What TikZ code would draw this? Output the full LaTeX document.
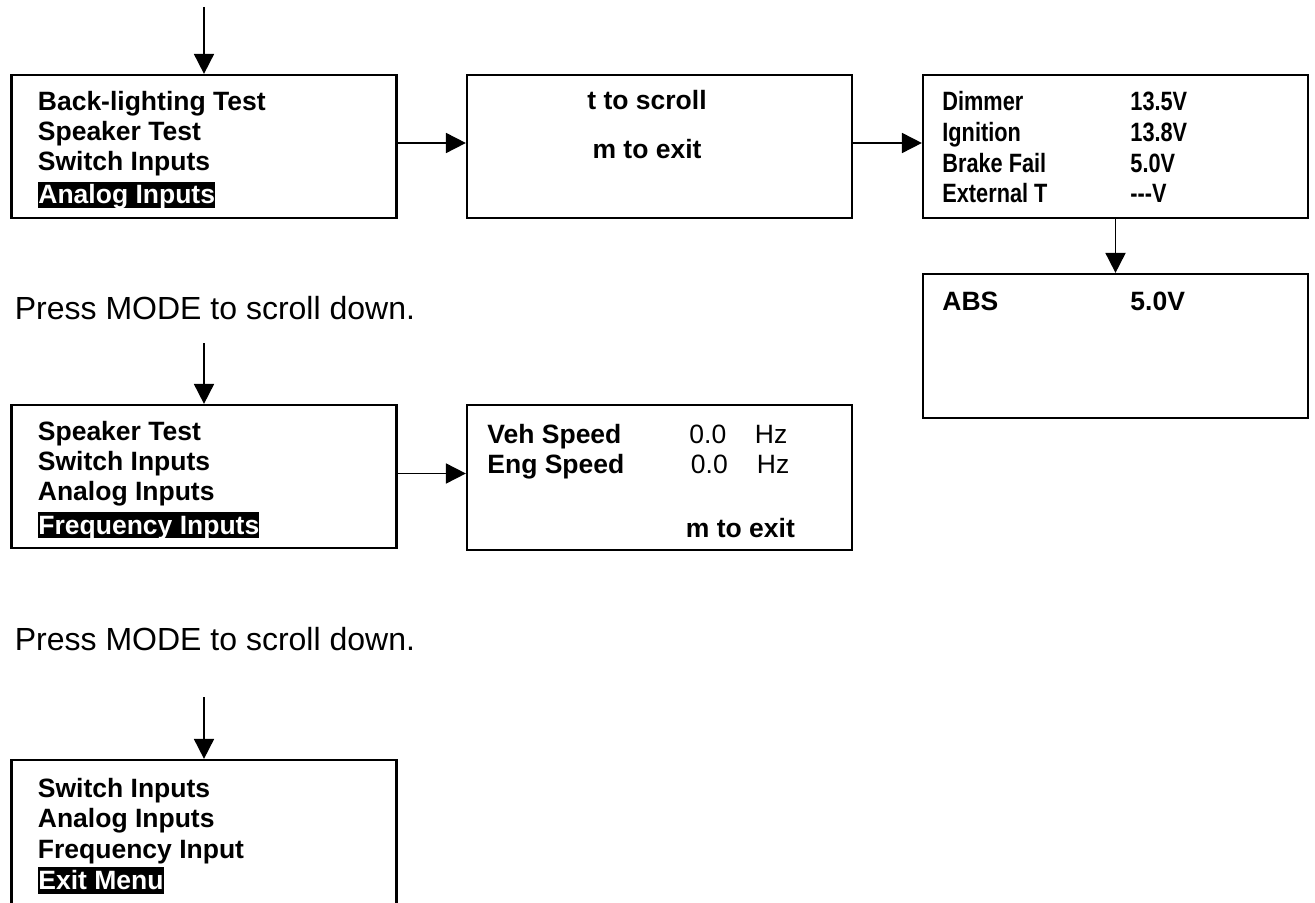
\documentclass[tikz,border=0pt]{standalone}
\usepackage{fontspec}
\setmainfont{Liberation Sans}
\newfontfamily\narrowsans[FakeStretch=0.82]{Liberation Sans}
\usetikzlibrary{arrows.meta}

\tikzset{
  panel/.style={draw, line width=1.1pt, minimum width=192.5pt, minimum height=71.5pt, inner sep=0pt},
  flow/.style={line width=0.9pt, -{Triangle[length=10pt,width=10pt]}},
  item/.style={anchor=base west, inner sep=0pt, font=\fontsize{13.25pt}{15pt}\selectfont\bfseries},
  itemc/.style={anchor=base, inner sep=0pt, font=\fontsize{13.25pt}{15pt}\selectfont\bfseries},
  reading/.style={anchor=base west, inner sep=0pt, font=\fontsize{13.25pt}{15pt}\selectfont},
  narrow/.style={anchor=base west, inner sep=0pt, font=\fontsize{13.25pt}{15pt}\selectfont\narrowsans\bfseries},
  selected/.style={item, fill=black, text=white, text height=11.15pt, text depth=2.15pt},
  note/.style={anchor=base west, inner sep=0pt, font=\fontsize{16pt}{19pt}\selectfont},
}

\begin{document}
\begin{tikzpicture}[x=0.5pt, y=-0.5pt]
\useasboundingbox (0,0) rectangle (1315,903);

% --- first screen row -------------------------------------------------
\node[panel] (menuA) at (204,146.5) {};
\node[panel] (hint)  at (659.5,146.5) {};
\node[panel] (volts) at (1115.5,146.5) {};
\node[panel, minimum height=72pt] (abs) at (1115.5,346) {};

\coordinate (inA) at (204,7);
\draw[flow] (inA) -- (menuA.north);
\draw[flow] ([yshift=1.75pt]menuA.east) -- ([yshift=1.75pt]menuA.east -| hint.west);
\draw[flow] ([yshift=1.75pt]hint.east) -- ([yshift=1.75pt]hint.east -| volts.west);
\draw[flow] (volts.south) -- (abs.north);

\node[item] (a1) at (37.5,110.5) {Back-lighting Test};
\node[item] (a2) at (37.5,140.5) {Speaker Test};
\node[item] (a3) at (37.5,170.5) {Switch Inputs};
\node[selected] (a4) at (38,204) {Analog Inputs};

\node[itemc] (h1) at (647,110) {t to scroll};
\node[itemc] (h2) at (647,159) {m to exit};

\node[narrow] (v1) at (942,110.7) {Dimmer};
\node[narrow] (v2) at (942,141.5) {Ignition};
\node[narrow] (v3) at (942,172.7) {Brake Fail};
\node[narrow] (v4) at (942,203) {External T};
\node[narrow] (w1) at (1130,110.7) {13.5V};
\node[narrow] (w2) at (1130,141.5) {13.8V};
\node[narrow] (w3) at (1130,172.7) {5.0V};
\node[narrow] (w4) at (1130,203) {---V};

\node[item] (b1) at (942,311) {ABS};
\node[item] (b2) at (1130,311) {5.0V};

% --- second screen row ------------------------------------------------
\node[note] (press1) at (14.5,320) {Press MODE to scroll down.};

\node[panel] (menuE) at (204,476.5) {};
\node[panel, minimum height=72.5pt] (freq) at (659.5,477.5) {};

\coordinate (inE) at (204,343);
\draw[flow] (inE) -- (menuE.north);
\draw[flow] ([yshift=1.5pt]menuE.east) -- ([yshift=1.5pt]menuE.east -| freq.west);

\node[item] (e1) at (37.5,440.7) {Speaker Test};
\node[item] (e2) at (37.5,470.5) {Switch Inputs};
\node[item] (e3) at (37.5,500.5) {Analog Inputs};
\node[selected] (e4) at (38,534) {Frequency Inputs};

\node[item] (f1) at (487,443) {Veh Speed};
\node[item] (f2) at (487,473) {Eng Speed};
\node[reading] (f3) at (689,443) {0.0};
\node[reading] (f4) at (690.5,473) {0.0};
\node[reading] (f5) at (754.5,443) {Hz};
\node[reading] (f6) at (756.5,473) {Hz};
\node[item] (f7) at (685.5,537) {m to exit};

% --- third screen -----------------------------------------------------
\node[note] (press2) at (14.5,650) {Press MODE to scroll down.};

\node[panel, minimum height=85pt] (menuG) at (204,845) {};
\coordinate (inG) at (204,697);
\draw[flow] (inG) -- (menuG.north);

\node[item] (g1) at (37.5,797) {Switch Inputs};
\node[item] (g2) at (37.5,827.5) {Analog Inputs};
\node[item] (g3) at (37.5,858) {Frequency Input};
\node[selected] (g4) at (38,889.5) {Exit Menu};
\end{tikzpicture}
\end{document}
